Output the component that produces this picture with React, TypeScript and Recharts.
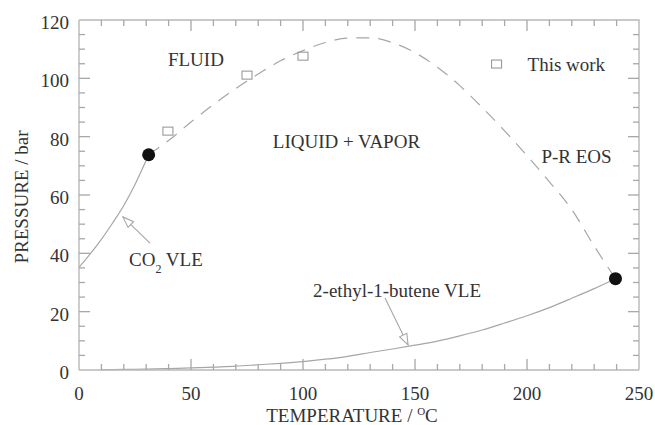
import {
  ComposedChart,
  Line,
  Scatter,
  XAxis,
  YAxis,
  ReferenceDot,
  ReferenceLine,
} from 'recharts'

// CO2 vapour pressure curve (solid, left)
const co2Temp = [0, 5, 10, 15, 20, 25, 31.1]
const co2Press = [35.2, 39.8, 44.8, 50.4, 56.4, 63.6, 73.8]

// 2-ethyl-1-butene vapour pressure curve (solid, bottom)
const buteneTemp = [10, 20, 30, 40, 50, 60, 70, 80, 90, 100, 110, 120, 130, 140, 150, 160, 170, 180, 190, 200, 210, 220, 230, 239.5]
const butenePress = [0.1, 0.2, 0.3, 0.5, 0.7, 1.0, 1.3, 1.8, 2.3, 2.9, 3.7, 4.7, 6.0, 7.2, 8.5, 9.9, 11.7, 13.7, 16.1, 18.6, 21.4, 24.6, 27.9, 31.3]

// P-R EOS critical line (dashed)
const eosTemp = [31.1, 40, 50, 60, 70, 80, 90, 100, 110, 120, 130, 140, 150, 160, 170, 180, 190, 200, 210, 220, 230, 239.5]
const eosPress = [73.8, 78.7, 85, 91, 96.5, 101.5, 106, 109.5, 112.3, 113.8, 113.9, 112.2, 108.8, 103.8, 97.5, 90, 82, 73.5, 64.5, 55, 42.5, 31.3]

// measured points
const thisWorkTemp = [39.7, 75, 100]
const thisWorkPress = [81.9, 101.1, 107.6]

// pure-component critical points
const criticalTemp = [31.1, 239.5]
const criticalPress = [73.8, 31.3]

const xLabels = [0, 50, 100, 150, 200, 250]
const yLabels = [0, 20, 40, 60, 80, 100, 120]
// inward tick marks (minor + major), drawn on all four sides
const xTickMarks = [10, 20, 30, 40, 50, 60, 70, 80, 90, 100, 110, 120, 130, 140, 150, 160, 170, 180, 190, 200, 210, 220, 230, 240]
const yTickMarks = [5, 10, 15, 20, 25, 30, 35, 40, 45, 50, 55, 60, 65, 70, 75, 80, 85, 90, 95, 100, 105, 110, 115]

const X_MIN = 0
const X_MAX = 250
const Y_MIN = 0
const Y_MAX = 120

const FONT = '"Liberation Serif", "Times New Roman", serif'
const TEXT = '#333'
const FRAME = '#b8b8b8'
const TICK = '#a8a8a8'
const CURVE = '#a6a6a6'
const FS = 19

const pts = (t: number[], p: number[]) => t.map((x, i) => ({ t: x, p: p[i] }))

const co2Data = pts(co2Temp, co2Press)
const buteneData = pts(buteneTemp, butenePress)
const eosData = pts(eosTemp, eosPress)
const thisWorkData = pts(thisWorkTemp, thisWorkPress)
const criticalData = pts(criticalTemp, criticalPress)

// top and right edges of the box (left and bottom come from the axis lines)
const frameData = [
  { t: X_MIN, p: Y_MAX },
  { t: X_MAX, p: Y_MAX },
  { t: X_MAX, p: Y_MIN },
]

// tick anchors on the four edges of the box
const xTickData = xTickMarks.flatMap((t) => [
  { t, p: Y_MIN, side: 'bottom' },
  { t, p: Y_MAX, side: 'top' },
])
const yTickData = yTickMarks.flatMap((v) => [
  { t: X_MIN, p: v, side: 'left' },
  { t: X_MAX, p: v, side: 'right' },
])

function tickShape(p: any) {
  const d = p.payload || {}
  const { cx, cy } = p
  const isX = d.side === 'bottom' || d.side === 'top'
  const major = isX ? d.t % 50 === 0 : d.p % 20 === 0
  const len = major ? 11 : 6
  let x2 = cx
  let y2 = cy
  if (d.side === 'bottom') y2 = cy - len
  else if (d.side === 'top') y2 = cy + len
  else if (d.side === 'left') x2 = cx + len
  else x2 = cx - len
  return <line x1={cx} y1={cy} x2={x2} y2={y2} stroke={TICK} strokeWidth={1.3} />
}

function BottomLabel({ x, y, payload }: any) {
  return (
    <text x={x} y={y + 29.5} textAnchor="middle" fill={TEXT} fontSize={FS} fontFamily={FONT}>
      {payload.value}
    </text>
  )
}

function LeftLabel({ x, y, payload }: any) {
  return (
    <text x={x - 10} y={y + 9} textAnchor="end" fill={TEXT} fontSize={FS} fontFamily={FONT}>
      {payload.value}
    </text>
  )
}

function Arrow(props: any) {
  const { x1, y1, x2, y2 } = props
  const a = Math.atan2(y2 - y1, x2 - x1)
  const len = 11
  const half = 4
  const bx = x2 - len * Math.cos(a)
  const by = y2 - len * Math.sin(a)
  const p1 = `${bx + half * Math.sin(a)},${by - half * Math.cos(a)}`
  const p2 = `${bx - half * Math.sin(a)},${by + half * Math.cos(a)}`
  return (
    <g>
      <line x1={x1} y1={y1} x2={x2} y2={y2} stroke={CURVE} strokeWidth={1.1} />
      <polygon points={`${x2},${y2} ${p1} ${p2}`} fill="#fff" stroke={CURVE} strokeWidth={1.1} />
    </g>
  )
}

const centerText = (value: string) => (p: any) => (
  <text x={p.viewBox.x} y={p.viewBox.y + 6.5} textAnchor="middle" fill={TEXT} fontSize={FS} fontFamily={FONT}>
    {value}
  </text>
)

const co2Text = (p: any) => (
  <text x={p.viewBox.x} y={p.viewBox.y + 6.5} textAnchor="middle" fill={TEXT} fontSize={FS} fontFamily={FONT}>
    <tspan>CO</tspan>
    <tspan dy={7} fontSize={12}>2</tspan>
    <tspan dy={-7}>{'  VLE'}</tspan>
  </text>
)

const legendText = (p: any) => (
  <text x={p.viewBox.x + 36} y={p.viewBox.y + 12} textAnchor="start" fill={TEXT} fontSize={FS} fontFamily={FONT}>
    This work
  </text>
)

const xTitle = (p: any) => {
  const vb = p.viewBox
  return (
    <text x={vb.x + vb.width / 2 - 7} y={vb.y + 52} textAnchor="middle" fill={TEXT} fontSize={FS} fontFamily={FONT}>
      <tspan>TEMPERATURE / </tspan>
      <tspan dy={-7} fontSize={11}>O</tspan>
      <tspan dy={7}>C</tspan>
    </text>
  )
}

const yTitle = (p: any) => {
  const vb = p.viewBox
  const cx = 27.5
  const cy = vb.y + vb.height / 2 + 2
  return (
    <text x={cx} y={cy} transform={`rotate(-90 ${cx} ${cy})`} textAnchor="middle" fill={TEXT} fontSize={FS} fontFamily={FONT}>
      PRESSURE / bar
    </text>
  )
}

const squareShape = (p: any) => (
  <rect x={p.cx - 5} y={p.cy - 4} width={10} height={8} fill="none" stroke="#9a9a9a" strokeWidth={1.1} />
)

export default function App() {
  return (
    <div style={{ position: 'absolute', left: 0, top: 0, width: 655, height: 425, background: '#fff' }}>
      <ComposedChart width={655} height={425} margin={{ top: 20, right: 16, bottom: 0, left: 0 }}>
        <XAxis
          dataKey="t"
          type="number"
          domain={[X_MIN, X_MAX]}
          ticks={xLabels}
          interval={0}
          height={55}
          tickSize={0}
          tickMargin={0}
          tickLine={false}
          tick={<BottomLabel />}
          axisLine={{ stroke: FRAME, strokeWidth: 1.4 }}
          label={{ content: xTitle }}
        />
        <YAxis
          type="number"
          domain={[Y_MIN, Y_MAX]}
          ticks={yLabels}
          interval={0}
          width={79}
          tickSize={0}
          tickMargin={0}
          tickLine={false}
          tick={<LeftLabel />}
          axisLine={{ stroke: FRAME, strokeWidth: 1.4 }}
          label={{ content: yTitle }}
        />

        <Line data={co2Data} dataKey="p" type="monotone" stroke={CURVE} strokeWidth={1.2} dot={false} isAnimationActive={false} />
        <Line data={buteneData} dataKey="p" type="monotone" stroke={CURVE} strokeWidth={1.2} dot={false} isAnimationActive={false} />
        <Line
          data={eosData}
          dataKey="p"
          type="monotone"
          stroke={CURVE}
          strokeWidth={1.2}
          strokeDasharray="13 9"
          dot={false}
          isAnimationActive={false}
        />

        {/* box: top and right edges */}
        <Line data={frameData} dataKey="p" type="linear" stroke={FRAME} strokeWidth={1.4} dot={false} isAnimationActive={false} />

        {/* inward tick marks on all sides */}
        <Scatter data={xTickData} dataKey="p" isAnimationActive={false} shape={tickShape} />
        <Scatter data={yTickData} dataKey="p" isAnimationActive={false} shape={tickShape} />

        <ReferenceLine segment={[{ x: 31.7, y: 43.5 }, { x: 19.6, y: 52.5 }]} shape={Arrow} />
        <ReferenceLine segment={[{ x: 136.6, y: 24.7 }, { x: 146.9, y: 8.6 }]} shape={Arrow} />

        <Scatter data={thisWorkData} dataKey="p" isAnimationActive={false} shape={squareShape} />
        <Scatter
          data={criticalData}
          dataKey="p"
          isAnimationActive={false}
          shape={(p: any) => <circle cx={p.cx} cy={p.cy} r={6.5} fill="#111" />}
        />

        <ReferenceDot x={52.2} y={106.4} r={0} stroke="none" label={{ content: centerText('FLUID') }} />
        <ReferenceDot x={119.4} y={78.5} r={0} stroke="none" label={{ content: centerText('LIQUID + VAPOR') }} />
        <ReferenceDot x={222.1} y={73.2} r={0} stroke="none" label={{ content: centerText('P-R EOS') }} />
        <ReferenceDot x={142} y={27.4} r={0} stroke="none" label={{ content: centerText('2-ethyl-1-butene VLE') }} />
        <ReferenceDot x={38.8} y={37.9} r={0} stroke="none" label={{ content: co2Text }} />
        <ReferenceDot x={186.4} y={104.9} r={5} shape={squareShape} label={{ content: legendText }} />
      </ComposedChart>
    </div>
  )
}
